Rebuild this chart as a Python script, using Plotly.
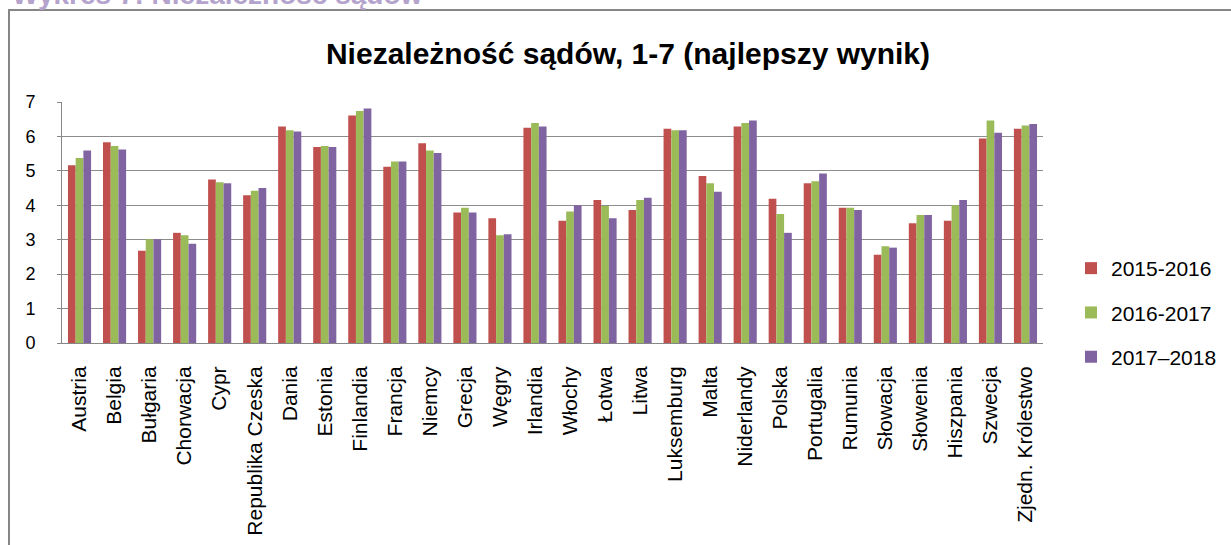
import plotly.graph_objects as go

countries = ["Austria", "Belgia", "Bułgaria", "Chorwacja", "Cypr", "Republika Czeska",
             "Dania", "Estonia", "Finlandia", "Francja", "Niemcy", "Grecja", "Węgry",
             "Irlandia", "Włochy", "Łotwa", "Litwa", "Luksemburg", "Malta", "Niderlandy",
             "Polska", "Portugalia", "Rumunia", "Słowacja", "Słowenia", "Hiszpania",
             "Szwecja", "Zjedn. Królestwo"]

v2015_2016 = [5.16, 5.83, 2.68, 3.20, 4.75, 4.29, 6.29, 5.69, 6.61, 5.12, 5.80, 3.79, 3.62,
              6.25, 3.55, 4.15, 3.86, 6.22, 4.85, 6.29, 4.19, 4.64, 3.93, 2.56, 3.48, 3.55,
              5.94, 6.22]
v2016_2017 = [5.37, 5.72, 3.01, 3.13, 4.67, 4.42, 6.18, 5.72, 6.74, 5.27, 5.59, 3.93, 3.13,
              6.39, 3.82, 3.98, 4.15, 6.18, 4.64, 6.39, 3.75, 4.70, 3.93, 2.81, 3.72, 4.00,
              6.46, 6.32]
v2017_2018 = [5.59, 5.62, 3.01, 2.88, 4.64, 4.50, 6.14, 5.69, 6.81, 5.27, 5.52, 3.79, 3.16,
              6.29, 4.00, 3.62, 4.22, 6.18, 4.39, 6.46, 3.20, 4.92, 3.86, 2.77, 3.72, 4.15,
              6.11, 6.36]

series_names = ["2015-2016", "2016-2017", "2017–2018"]
series_values = [v2015_2016, v2016_2017, v2017_2018]
colors = ["#C0504D", "#9BBB59", "#8064A2"]

title_text = "Niezależność sądów, 1-7 (najlepszy wynik)"
header_text = "Wykres 7: Niezależność sądów"
y_ticks = [0, 1, 2, 3, 4, 5, 6, 7]

W, H = 1231, 545
L, R, T, B = 62, 1043, 102, 343

fig = go.Figure()
for name, vals, col in zip(series_names, series_values, colors):
    fig.add_trace(go.Bar(x=countries, y=vals, name=name, legendgroup=name,
                         marker=dict(color=col, line=dict(width=0))))

def px_x(p):
    return (p - L) / (R - L)

def px_y(p):
    return (B - p) / (B - T)

fig.update_layout(
    width=W, height=H,
    margin=dict(l=L, r=W - R, t=T, b=H - B, autoexpand=False),
    paper_bgcolor="white", plot_bgcolor="white",
    barmode="group", bargap=0.34, bargroupgap=0,
    font=dict(family="Liberation Sans, Arial, sans-serif", color="#000000"),
    title=dict(text="<b>" + title_text + "</b>", x=px_x(628), xanchor="center",
               xref="paper", y=1 - 53 / H, yanchor="middle",
               font=dict(size=30, color="#000000")),
    showlegend=True,
    legend=dict(x=px_x(1071), xanchor="left", y=px_y(248), yanchor="top",
                font=dict(size=21), tracegroupgap=14, itemwidth=30,
                traceorder="grouped", bgcolor="rgba(0,0,0,0)"),
    xaxis=dict(tickangle=-90, tickfont=dict(size=21), showline=True,
               linecolor="#868686", linewidth=1, ticks="", showgrid=False,
               ticklabelstandoff=14, range=[-0.5, len(countries) - 0.5]),
    yaxis=dict(range=[0, 7], tickvals=y_ticks, tickfont=dict(size=18),
               showline=True, linecolor="#868686", linewidth=1,
               gridcolor="#8C8C8C", gridwidth=1, ticks="outside", ticklen=4,
               tickcolor="#868686", ticklabelstandoff=18, zeroline=False),
    shapes=[
        dict(type="rect", xref="paper", yref="paper",
             x0=px_x(9), x1=px_x(1300), y0=px_y(600), y1=px_y(10),
             line=dict(color="#868686", width=2), fillcolor="rgba(0,0,0,0)",
             layer="above"),
    ],
    annotations=[
        dict(text="<b>" + header_text + "</b>", xref="paper", yref="paper",
             x=px_x(10), xanchor="left", y=px_y(12), yanchor="bottom",
             showarrow=False, font=dict(size=28, color="#B4A3CC")),
    ],
)

fig.write_html("out.html", config={"displayModeBar": False},
               post_script="document.body.style.margin='0';")
